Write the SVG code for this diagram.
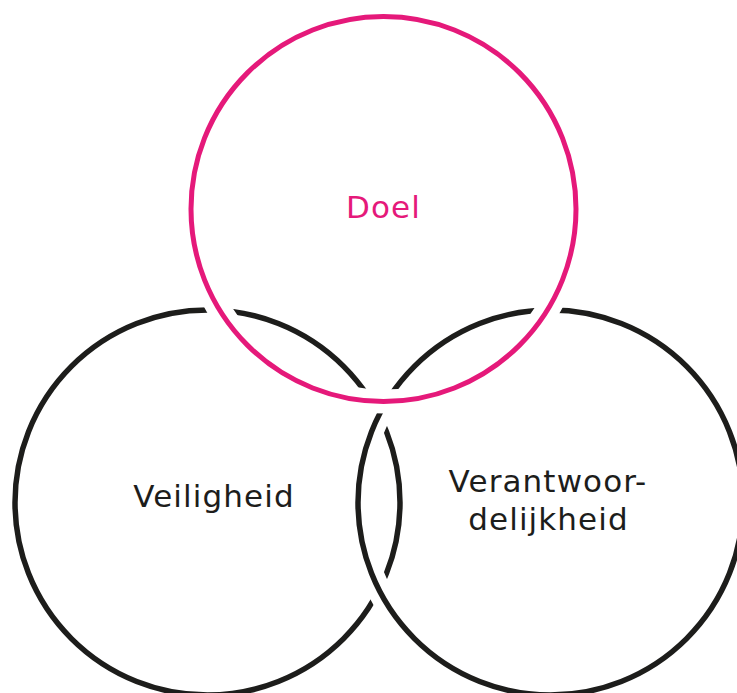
<svg xmlns="http://www.w3.org/2000/svg" width="737" height="693" viewBox="0 0 737 693">
<style>
.ring{fill:none;stroke:#1d1d1b;stroke-width:5.5}
.halo{fill:none;stroke:#ffffff;stroke-width:24}
.pink{fill:none;stroke:#e5197a;stroke-width:5}
text{font-family:"DejaVu Sans","Liberation Sans",sans-serif;font-size:31px;letter-spacing:1.1px;text-anchor:middle}
.lbl{fill:#1d1d1b}
.lblp{fill:#e5197a}
</style>
<rect width="737" height="693" fill="#ffffff"/>
<g id="veiligheid">
<circle class="ring" cx="207.5" cy="502.5" r="192.5"/>
<text class="lbl" x="214" y="507">Veiligheid</text>
</g>
<g id="verantwoordelijkheid">
<circle class="halo" cx="550.5" cy="502.5" r="192.5"/>
<circle class="ring" cx="550.5" cy="502.5" r="192.5"/>
<text class="lbl" x="548" y="492">Verantwoor-</text>
<text class="lbl" x="548.5" y="530">delijkheid</text>
</g>
<g id="doel">
<circle class="halo" cx="383.5" cy="209" r="192.5"/>
<circle class="pink" cx="383.5" cy="209" r="192.5"/>
<text class="lblp" x="383.5" y="218">Doel</text>
</g>
<g id="connectors"></g>
</svg>
